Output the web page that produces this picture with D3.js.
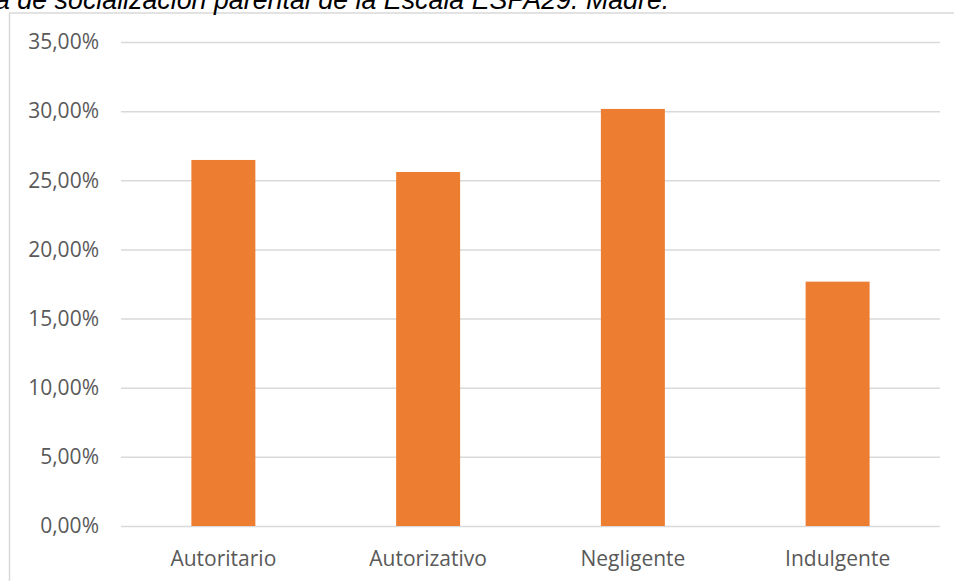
<!DOCTYPE html>
<html>
<head>
<meta charset="utf-8">
<script src="https://cdn.jsdelivr.net/npm/d3@7/dist/d3.min.js"></script>
<style>
  body { margin: 0; background: #fff; }
  svg { display: block; }
  .tick text { fill: #595959; font-family: "Open Sans", sans-serif; font-size: 21px; }
</style>
</head>
<body>
<div id="chart"></div>
<script>
// data
var categories = ["Autoritario", "Autorizativo", "Negligente", "Indulgente"];
var values = [0.2647, 0.2560, 0.3016, 0.1767];
var yTicks = [0, 0.05, 0.10, 0.15, 0.20, 0.25, 0.30, 0.35];
var title = "a de socialización parental de la Escala ESPA29. Madre.";

var width = 954;
var height = 581;
var plot = { left: 121, right: 940, top: 42, bottom: 526 };

var svg = d3
  .select("#chart")
  .append("svg")
  .attr("width", width)
  .attr("height", height);

// chart frame (only left and top edges show)
svg
  .append("rect")
  .attr("x", 9.5)
  .attr("y", 13)
  .attr("width", width + 20)
  .attr("height", height + 20)
  .attr("fill", "none")
  .attr("stroke", "#d9d9d9")
  .attr("stroke-width", 1.5);

// title, cut off at the top like the source image
svg
  .append("text")
  .attr("x", -5)
  .attr("y", 9)
  .attr("font-family", "'Liberation Sans', Arial, sans-serif")
  .attr("font-style", "italic")
  .attr("font-size", "26.8px")
  .attr("fill", "#000")
  .text(title);

var locale = d3.formatLocale({ decimal: ",", thousands: ".", grouping: [3], currency: ["", "€"] });
var pct = locale.format(".2%");

var xScale = d3
  .scaleBand()
  .domain(categories)
  .range([plot.left, plot.right])
  .paddingInner(0.6875)
  .paddingOuter(0.34375);

var yScale = d3
  .scaleLinear()
  .domain([0, 0.35])
  .range([plot.bottom, plot.top]);

// gridlines + y labels
var yAxis = d3
  .axisLeft(yScale)
  .tickValues(yTicks)
  .tickFormat(pct)
  .tickSize(-(plot.right - plot.left))
  .tickPadding(22);

svg
  .append("g")
  .attr("class", "y-axis")
  .attr("transform", "translate(" + plot.left + ",0)")
  .call(yAxis)
  .call(function(g) {
    g.select(".domain").remove();
    g.selectAll(".tick line").attr("stroke", "#d9d9d9").attr("stroke-width", 1.5);
  });

// bars
svg
  .selectAll(".bar")
  .data(values)
  .enter()
  .append("rect")
  .attr("class", "bar")
  .attr("x", function(d, i) {
    return xScale(categories[i]);
  })
  .attr("y", function(d) {
    return yScale(d);
  })
  .attr("width", xScale.bandwidth())
  .attr("height", function(d) {
    return yScale(0) - yScale(d);
  })
  .attr("fill", "#ed7d31");

// x labels
var xAxis = d3.axisBottom(xScale).tickSize(0).tickPadding(25);

svg
  .append("g")
  .attr("class", "x-axis")
  .attr("transform", "translate(0," + plot.bottom + ")")
  .call(xAxis)
  .call(function(g) {
    g.select(".domain").remove();
  });
</script>
</body>
</html>
